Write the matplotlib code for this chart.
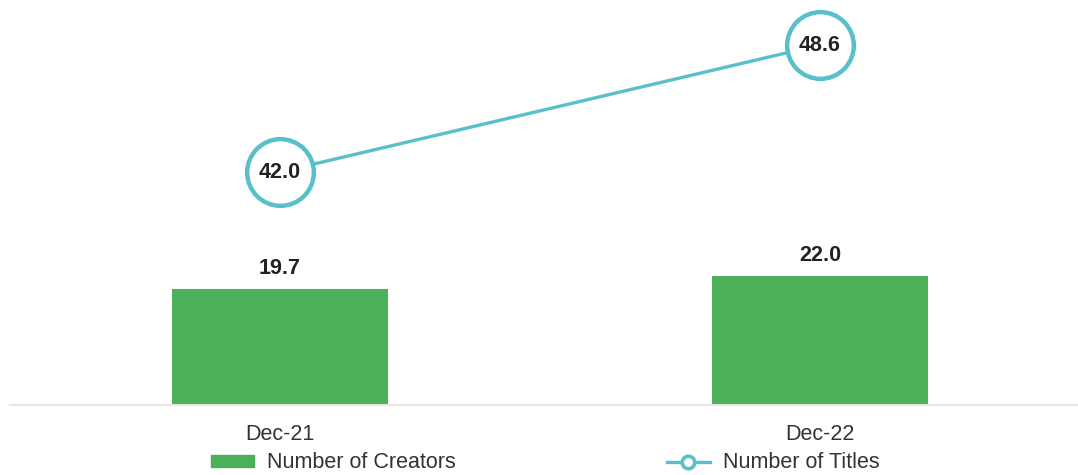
import matplotlib
matplotlib.use("Agg")
import matplotlib.pyplot as plt
from matplotlib.lines import Line2D
from matplotlib.patches import Patch

categories = ["Dec-21", "Dec-22"]
creators = [19.7, 22.0]
titles = [42.0, 48.6]

GREEN = "#4CAF5A"
TEAL = "#57C0CB"
plt.rcParams['font.family'] = ['Liberation Sans', 'DejaVu Sans']

fig = plt.figure(figsize=(10.78, 4.75), dpi=100)
ax = fig.add_axes([10/1078, 1 - 405/475, 1 - 10/1078, 405/475])
x = list(range(len(categories)))
ax.bar(x, creators, width=0.4, color=GREEN, zorder=2)
ax.set_ylim(0, 69)
ax.set_xlim(-0.5, 1.478)
for xi, v in zip(x, creators):
    ax.annotate(f"{v:.1f}", (xi, v), xytext=(0, 10), textcoords="offset pixels",
                ha="center", va="bottom", fontsize=15.5, fontweight="bold", color="#222222")
for s in ["top", "right", "left"]:
    ax.spines[s].set_visible(False)
ax.spines["bottom"].set_color("#E6E6E6")
ax.spines["bottom"].set_linewidth(1.5)
ax.set_yticks([])
ax.set_xticks(x)
ax.set_xticklabels(categories, fontsize=15.5, color="#333333")
ax.tick_params(axis="x", length=0, pad=14)

ax2 = ax.twinx()
ax2.set_ylim(29.89, 50.94)
ax2.plot(x, titles, color=TEAL, lw=2.4, marker="o", ms=48, mfc="white",
         mec=TEAL, mew=3.2, zorder=3)
for xi, v in zip(x, titles):
    ax2.text(xi, v, f"{v:.1f}", ha="center", va="center", fontsize=15.5,
             fontweight="bold", color="#222222", zorder=4)
ax2.axis("off")

handles = [Patch(color=GREEN),
           Line2D([0], [0], color=TEAL, lw=2.4, marker="o", ms=9, mfc="white", mec=TEAL, mew=2.6)]
fig.legend(handles, ["Number of Creators", "Number of Titles"], ncol=2,
           loc="center", bbox_to_anchor=(545/1078, 1 - 463/475), frameon=False,
           fontsize=15.5, handlelength=2.0, handletextpad=0.6, columnspacing=9.8,
           labelcolor="#333333", handleheight=0.5, borderpad=0.1)

fig.savefig("out.png", dpi=100)
